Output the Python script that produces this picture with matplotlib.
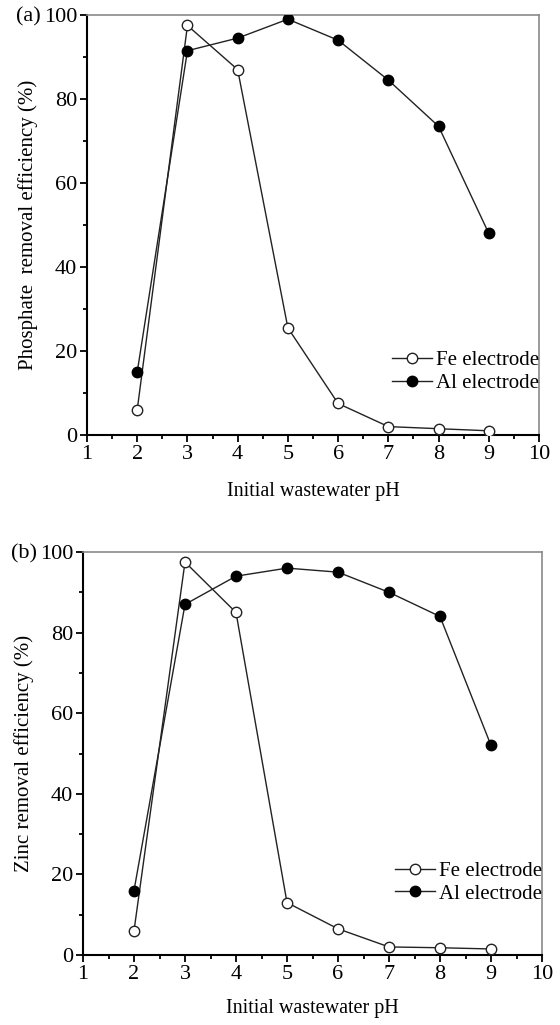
import matplotlib.pyplot as plt
from matplotlib.ticker import MultipleLocator

plt.rcParams["font.family"] = ["Liberation Serif", "DejaVu Serif"]

# initial pH values
ph = [2, 3, 4, 5, 6, 7, 8, 9]

# (a) phosphate removal efficiency (%)
phos_fe = [6.0, 97.5, 87.0, 25.5, 7.5, 2.0, 1.5, 1.0]
phos_al = [15.0, 91.5, 94.5, 99.0, 94.0, 84.5, 73.5, 48.0]

# (b) zinc removal efficiency (%)
zinc_fe = [6.0, 97.5, 85.0, 13.0, 6.5, 2.0, 1.8, 1.5]
zinc_al = [16.0, 87.0, 94.0, 96.0, 95.0, 90.0, 84.0, 52.0]

W, H = 560, 1025


def draw_panel(ax, fe, al, ylabel, leg_y, xpad):
    ax.plot(ph, fe, "-o", color="#222222", lw=1.0, ms=7.5,
            mfc="white", mec="#222222", mew=1.0, label="Fe electrode", zorder=3)
    ax.plot(ph, al, "-o", color="#222222", lw=1.0, ms=7.5,
            mfc="black", mec="black", label="Al electrode", zorder=3)
    ax.set_xlim(1, 10)
    ax.set_ylim(0, 100)
    ax.xaxis.set_major_locator(MultipleLocator(1))
    ax.xaxis.set_minor_locator(MultipleLocator(0.5))
    ax.yaxis.set_major_locator(MultipleLocator(20))
    ax.yaxis.set_minor_locator(MultipleLocator(10))
    ax.tick_params(which="both", direction="out", top=False, right=False,
                   labelsize=16, width=1.3, pad=2)
    ax.tick_params(which="major", length=5)
    ax.tick_params(which="minor", length=3)
    for s in ("left", "bottom"):
        ax.spines[s].set_linewidth(1.5)
        ax.spines[s].set_color("black")
    for s in ("top", "right"):
        ax.spines[s].set_linewidth(1.2)
        ax.spines[s].set_color("#8a8a8a")
    ax.set_xlabel("Initial wastewater pH", fontsize=14.5, labelpad=xpad)
    ax.set_ylabel(ylabel, fontsize=15, labelpad=4)
    ax.legend(loc="center right", bbox_to_anchor=(1.0, leg_y), frameon=False,
              fontsize=15, handlelength=1.9, handletextpad=0.2,
              labelspacing=0.15, borderpad=0, borderaxespad=0)


fig = plt.figure(figsize=(W / 100, H / 100), dpi=100)
ax1 = fig.add_axes([87 / W, 1 - 435 / H, (539 - 87) / W, (435 - 15) / H])
ax2 = fig.add_axes([83 / W, 1 - 955 / H, (542 - 83) / W, (955 - 552) / H])

draw_panel(ax1, phos_fe, phos_al, "Phosphate  removal efficiency (%)", 0.15, 13)
draw_panel(ax2, zinc_fe, zinc_al, "Zinc removal efficiency (%)", 0.18, 11)

fig.text(28 / W, 1 - 17 / H, "(a)", fontsize=16, ha="center", va="center")
fig.text(24 / W, 1 - 554 / H, "(b)", fontsize=16, ha="center", va="center")

fig.savefig("out.png", dpi=100)
